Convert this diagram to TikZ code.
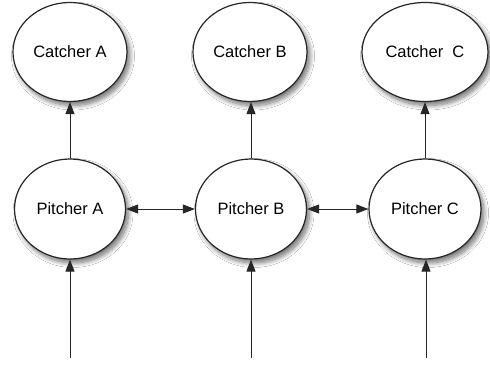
\documentclass[tikz,border=0pt]{standalone}
\usepackage{fontspec}
\setmainfont{Liberation Sans}
\usetikzlibrary{shapes.geometric,arrows.meta,shadows.blur}
\begin{document}
\begin{tikzpicture}[x=1pt,y=-1pt,
  player/.style={ellipse,draw=black!85,line width=1.2pt,fill=white,
    inner sep=0pt,minimum width=114pt,minimum height=99pt,
    font=\fontsize{16.5}{18}\selectfont,
    blur shadow={shadow xshift=3pt,shadow yshift=-4pt,shadow blur steps=10,
      shadow blur radius=4.5pt,shadow opacity=55}},
  tip/.style={Triangle[length=12pt,width=9pt]},
  link/.style={draw=black!85,line width=0.9pt,-{Triangle[length=12pt,width=9pt]}},
  both/.style={draw=black!85,line width=0.9pt,
    {Triangle[length=12pt,width=9pt]}-{Triangle[length=12pt,width=9pt]}}]
\useasboundingbox (0,0) rectangle (490,367);
\fill[white] (0,0) rectangle (490,367);

% catchers
\node[player] (ca) at (70,52) {Catcher A};
\node[player] (cb) at (250,52) {Catcher B};
\node[player,minimum width=126pt] (cc) at (425,52) {Catcher\ \ C};

% pitchers
\node[player,minimum width=111pt,minimum height=100pt] (pa) at (70,209) {Pitcher A};
\node[player,minimum width=111pt,minimum height=100pt] (pb) at (251,209) {Pitcher B};
\node[player,minimum width=112pt,minimum height=100pt] (pc) at (425,209) {Pitcher C};

% incoming ends
\coordinate (ia) at (70,358);
\coordinate (ib) at (251,358);
\coordinate (ic) at (426,358);

% pitcher -> catcher
\draw[link] (pa) -- (ca);
\draw[link] (pb.north) -- (pb.north |- cb.south);
\draw[link] (pc) -- (cc);

% pitcher <-> pitcher
\draw[both] (pa) -- (pb);
\draw[both] (pb) -- (pc);

% inputs
\draw[link] (ia) -- (pa.south);
\draw[link] (ib) -- (pb.south);
\draw[link] (ic) -- (ic |- pc.south);
\end{tikzpicture}
\end{document}
